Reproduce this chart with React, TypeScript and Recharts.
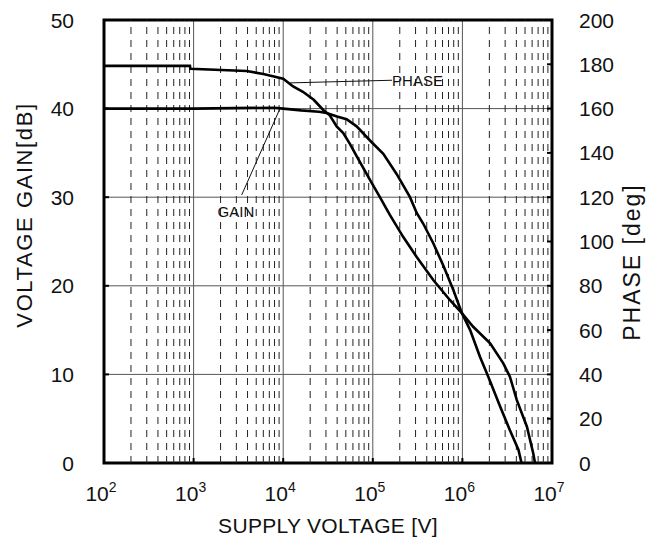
import React from "react";
import {
  LineChart,
  Line,
  XAxis,
  YAxis,
  CartesianGrid,
  ReferenceLine,
  ReferenceArea,
  ReferenceDot,
} from "recharts";

const FONT = "'Liberation Sans', Arial, Helvetica, sans-serif";

// x axis: decades of the supply voltage (log scale)
const decades = [1e2, 1e3, 1e4, 1e5, 1e6, 1e7];
const gainTicks = [0, 10, 20, 30, 40, 50];
const phaseTicks = [0, 20, 40, 60, 80, 100, 120, 140, 160, 180, 200];

// GAIN curve [dB]
const gainFreq = [
  1e2, 1e3, 7.9e3, 1e4, 1.58e4, 2.5e4, 3.05e4, 3.98e4, 5.1e4, 6.6e4, 9.3e4, 1.31e5,
  1.85e5, 2.6e5, 3.1e5, 3.66e5, 4.73e5, 6.17e5, 7.94e5, 9.8e5, 1.22e6, 1.57e6, 1.95e6,
  2.63e6, 3.39e6, 4.22e6, 4.57e6,
];
const gainDb = [
  40.0, 40.0, 40.1, 40.0, 39.8, 39.65, 39.5, 39.1, 38.8, 38.0, 36.4, 34.9,
  32.6, 30.0, 28.2, 27.0, 24.8, 22.2, 19.5, 17.0, 15.0, 12.0, 9.7,
  6.4, 3.7, 1.5, 0,
];

// PHASE curve [deg]
const phaseFreq = [
  1e2, 9.1e2, 9.2e2, 3.9e3, 6.0e3, 1e4, 1.29e4, 1.66e4, 2.19e4, 2.8e4, 3.31e4, 3.95e4,
  4.68e4, 5.57e4, 6.6e4, 9.3e4, 1.2e5, 1.55e5, 2.19e5, 3.09e5, 4.73e5, 7.24e5, 9.8e5,
  1.32e6, 2.04e6, 2.86e6, 3.39e6, 4.05e6, 5.25e6, 6.17e6, 6.46e6,
];
const phaseDeg = [
  179.3, 179.3, 178, 177, 175.6, 173.5, 170, 167.6, 164, 159.4, 157, 152,
  149, 144, 138.5, 127.8, 120, 112, 102, 93, 82.6, 73.6, 67.8,
  61.5, 54, 45, 39, 28.4, 16.4, 4.4, 0,
];

const gainData = gainFreq.map((f, i) => ({ f, v: gainDb[i] }));
const phaseData = phaseFreq.map((f, i) => ({ f, v: phaseDeg[i] }));

// dashed minor grid at 2..9 of every decade
const minorTicks = decades.slice(0, -1).flatMap((d) => [2, 3, 4, 5, 6, 7, 8, 9].map((m) => m * d));

const XTick = ({ x, y, payload }: any) => {
  const exp = Math.round(Math.log10(payload.value));
  return (
    <text x={x - 3} y={y + 16} textAnchor="middle" fontSize={21} fontFamily={FONT} fill="#111">
      <tspan>10</tspan>
      <tspan dy={-9} fontSize={14}>
        {exp}
      </tspan>
    </text>
  );
};

const LeftTick = ({ x, y, payload }: any) => (
  <text x={x} y={y} dy="0.36em" textAnchor="end" fontSize={21} fontFamily={FONT} fill="#111">
    {payload.value}
  </text>
);

const RightTick = ({ x, y, payload }: any) => (
  <text x={x} y={y} dy="0.36em" textAnchor="start" fontSize={21} fontFamily={FONT} fill="#111">
    {payload.value}
  </text>
);

const LeftTitle = ({ viewBox }: any) => {
  const cx = viewBox.x + 24;
  const cy = 215;
  return (
    <text
      x={cx}
      y={cy}
      transform={`rotate(-90 ${cx} ${cy})`}
      textAnchor="middle"
      dominantBaseline="central"
      fontSize={22}
      letterSpacing={1.6}
      fontFamily={FONT}
      fill="#111"
    >
      VOLTAGE GAIN[dB]
    </text>
  );
};

const RightTitle = ({ viewBox }: any) => {
  const cx = viewBox.x + 80;
  const cy = 262;
  return (
    <text
      x={cx}
      y={cy}
      transform={`rotate(-90 ${cx} ${cy})`}
      textAnchor="middle"
      dominantBaseline="central"
      fontSize={23}
      letterSpacing={2}
      fontFamily={FONT}
      fill="#111"
    >
      PHASE [deg]
    </text>
  );
};

const BottomTitle = ({ viewBox }: any) => (
  <text
    x={viewBox.x + viewBox.width / 2}
    y={viewBox.y + 70}
    textAnchor="middle"
    fontSize={21}
    letterSpacing={0.3}
    fontFamily={FONT}
    fill="#111"
  >
    SUPPLY VOLTAGE [V]
  </text>
);

export default function App() {
  return (
    <div style={{ position: "absolute", left: 0, top: 0, width: 658, height: 543, background: "#fff" }}>
      <LineChart width={658} height={543} margin={{ top: 20, right: 0, bottom: 0, left: 0 }}>
        <CartesianGrid
          xAxisId="x"
          yAxisId="gain"
          stroke="#555"
          strokeWidth={1}
          horizontal={true}
          vertical={true}
        />
        {minorTicks.map((m) => (
          <ReferenceLine
            key={m}
            x={m}
            xAxisId="x"
            yAxisId="gain"
            stroke="#222"
            strokeWidth={1}
            strokeDasharray="7 6"
          />
        ))}
        <XAxis
          xAxisId="x"
          dataKey="f"
          type="number"
          scale="log"
          domain={[1e2, 1e7]}
          ticks={decades}
          allowDataOverflow
          height={80}
          axisLine={false}
          tickSize={-5}
          tickMargin={27}
          tickLine={{ stroke: "#000", strokeWidth: 2 }}
          tick={<XTick />}
          label={<BottomTitle />}
        />
        <YAxis
          yAxisId="gain"
          orientation="left"
          type="number"
          domain={[0, 50]}
          ticks={gainTicks}
          width={104}
          axisLine={false}
          tickSize={-5}
          tickMargin={35}
          tickLine={{ stroke: "#000", strokeWidth: 2 }}
          tick={<LeftTick />}
          label={<LeftTitle />}
        />
        <YAxis
          yAxisId="phase"
          orientation="right"
          type="number"
          domain={[0, 200]}
          ticks={phaseTicks}
          width={106}
          axisLine={false}
          tickSize={-5}
          tickMargin={32}
          tickLine={{ stroke: "#000", strokeWidth: 2 }}
          tick={<RightTick />}
          label={<RightTitle />}
        />
        <ReferenceArea
          xAxisId="x"
          yAxisId="gain"
          x1={1e2}
          x2={1e7}
          y1={0}
          y2={50}
          fill="none"
          stroke="#000"
          strokeWidth={3}
        />
        <ReferenceLine
          xAxisId="x"
          yAxisId="gain"
          segment={[
            { x: 1.19e4, y: 42.9 },
            { x: 1.64e5, y: 43.2 },
          ]}
          stroke="#111"
          strokeWidth={1}
        />
        <ReferenceLine
          xAxisId="x"
          yAxisId="gain"
          segment={[
            { x: 3.44e3, y: 30.25 },
            { x: 9.2e3, y: 40.0 },
          ]}
          stroke="#111"
          strokeWidth={1}
        />
        <ReferenceDot
          xAxisId="x"
          yAxisId="gain"
          x={1.64e5}
          y={43.2}
          r={0}
          fill="none"
          stroke="none"
          label={{ value: "PHASE", position: "right", offset: 0, fontSize: 15, fontFamily: FONT, fill: "#111" }}
        />
        <ReferenceDot
          xAxisId="x"
          yAxisId="gain"
          x={2.97e3}
          y={28.4}
          r={0}
          fill="none"
          stroke="none"
          label={{ value: "GAIN", position: "center", fontSize: 15, fontFamily: FONT, fill: "#111" }}
        />
        <Line
          xAxisId="x"
          yAxisId="gain"
          data={gainData}
          dataKey="v"
          type="linear"
          stroke="#000"
          strokeWidth={2.6}
          dot={false}
          isAnimationActive={false}
        />
        <Line
          xAxisId="x"
          yAxisId="phase"
          data={phaseData}
          dataKey="v"
          type="linear"
          stroke="#000"
          strokeWidth={2.6}
          dot={false}
          isAnimationActive={false}
        />
      </LineChart>
    </div>
  );
}
